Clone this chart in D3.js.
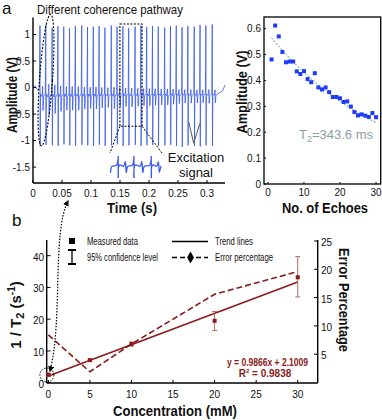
<!DOCTYPE html>
<html>
<head>
<meta charset="UTF-8">
<style>
body { margin: 0; background: #fff; }
svg { display: block; }
text { font-family: "Liberation Sans", Arial, sans-serif; fill: #111; }
.tick { font-size: 10px; }
.lbl { font-weight: bold; font-size: 15px; }
.leg { font-size: 10.5px; }
</style>
</head>
<body>
<svg id="fig" width="382" height="420"></svg>
<script src="https://d3js.org/d3.v7.min.js"></script>
<script>

// ---- panel a (left): CPMG echo train ----
var pulseTimes = [0.012, 0.022, 0.033, 0.043, 0.053, 0.063, 0.073, 0.084, 0.094, 0.104,
                  0.114, 0.124, 0.135, 0.145, 0.155, 0.165, 0.176, 0.186, 0.196, 0.206,
                  0.216, 0.227, 0.237, 0.247, 0.257, 0.267, 0.278, 0.288, 0.298, 0.309];
var pulsePeaks = [1.17, 1.18, 1.13, 1.16, 1.15, 1.12, 1.16, 1.17, 1.14, 1.15,
                  1.16, 1.13, 1.17, 1.15, 1.16, 1.12, 1.15, 1.17, 1.14, 1.16,
                  1.15, 1.13, 1.16, 1.17, 1.14, 1.16, 1.15, 1.18, 1.17, 1.19];
var pulseTroughs = [-1.10, -1.08, -1.09, -1.10, -1.07, -1.09, -1.10, -1.08, -1.09, -1.10,
                    -1.08, -1.10, -1.09, -1.07, -1.10, -1.09, -1.08, -1.10, -1.09, -1.08,
                    -1.10, -1.09, -1.08, -1.10, -1.12, -1.09, -1.10, -1.11, -1.09, -1.10];
var timeTicks = [0, 0.05, 0.1, 0.15, 0.2, 0.25, 0.3];
var ampTicks = [-1.5, -1, -0.5, 0, 0.5, 1];

// ---- panel a (right): echo amplitudes ----
var echoNo = d3.range(1, 31);
var echoAmp = [0.481, 0.612, 0.570, 0.510, 0.470, 0.473, 0.473, 0.435, 0.425, 0.436,
               0.405, 0.393, 0.428, 0.373, 0.365, 0.373, 0.355, 0.336, 0.336, 0.331,
               0.317, 0.319, 0.299, 0.278, 0.265, 0.269, 0.264, 0.259, 0.274, 0.258];
var fitA0 = 0.582, echoSpacingMs = 10.3, T2ms = 343.6;
var echoTicks = [0, 10, 20, 30];
var echoAmpTicks = [0, 0.1, 0.2, 0.3, 0.4, 0.5, 0.6];

// ---- panel b ----
var conc = [0, 5, 10, 20, 30];
var rate = [2.5, 7.1, 12.2, 19.5, 33.2];
var rateLo = [2.0, 6.7, 11.5, 16.4, 27.0];
var rateHi = [3.0, 7.5, 12.8, 22.4, 39.7];
var errPct = [8.4, 1.9, 6.8, 15.6, 19.6];
var slope = 0.9866, intercept = 2.1009;
var concTicks = [0, 5, 10, 15, 20, 25, 30];
var rateTicks = [0, 10, 20, 30, 40];
var errTicks = [5, 10, 15, 20, 25];

var darkRed = "#8b1a1a";
var blue = "#3b5cf2";

var svg = d3.select("#fig");
svg.append("rect").attr("width", 382).attr("height", 420).attr("fill", "#fff");

// ======================= panel a left =======================
var xA = d3.scaleLinear().domain([0, 0.331]).range([33, 225]);
var yA = d3.scaleLinear().domain([-1.8, 1.32]).range([183, 17.6]);

function tracePoints() {
  var base = -0.12, pts = [[0, 0.03], [0.004, 0.03], [0.008, -0.05], [pulseTimes[0] - 0.0008, 0.0]];
  pulseTimes.forEach(function(t, i) {
    var next = i < pulseTimes.length - 1 ? pulseTimes[i + 1] : t + 0.0102;
    var a = echoAmp[i], te = (t + next) / 2;
    pts.push([t, pulsePeaks[i]]);
    pts.push([t + 0.0004, pulseTroughs[i]]);
    pts.push([t + 0.0010, base]);
    pts.push([te - 0.0014, base - 0.1 * a]);
    pts.push([te - 0.0003, base + 0.3 * a]);
    pts.push([te + 0.0003, base - 0.65 * a]);
    pts.push([te + 0.0013, base - 0.1 * a]);
    pts.push([next - 0.0008, base]);
  });
  pts.push([0.327, -0.06]);
  pts.push([0.331, 0.05]);
  return pts;
}
var trace = tracePoints();

var gA = svg.append("g");
gA.append("path")
  .attr("d", d3.line().x(function(d) { return xA(d[0]); }).y(function(d) { return yA(d[1]); })(trace))
  .attr("fill", "none").attr("stroke", blue).attr("stroke-width", 0.9).attr("stroke-opacity", 0.9);

// axes
gA.append("line").attr("x1", 33).attr("x2", 33).attr("y1", yA.range()[1]).attr("y2", 183).attr("stroke", "#000").attr("stroke-width", 1.4);
gA.append("line").attr("x1", 33).attr("x2", 225).attr("y1", 183).attr("y2", 183).attr("stroke", "#000").attr("stroke-width", 1.4);
ampTicks.forEach(function(v) {
  gA.append("line").attr("x1", 33).attr("x2", 36).attr("y1", yA(v)).attr("y2", yA(v)).attr("stroke", "#000");
  gA.append("text").attr("class", "tick").attr("x", 30).attr("y", yA(v) + 3.5).attr("text-anchor", "end").text(v);
});
timeTicks.forEach(function(v) {
  gA.append("line").attr("x1", xA(v)).attr("x2", xA(v)).attr("y1", 183).attr("y2", 180).attr("stroke", "#000");
  gA.append("text").attr("class", "tick").attr("x", xA(v)).attr("y", 197).attr("text-anchor", "middle").text(v);
});

// annotations
gA.append("text").attr("x", 2).attr("y", 14).attr("font-size", 17).text("a");
gA.append("text").attr("x", 37).attr("y", 14).attr("font-size", 13)
  .attr("textLength", 146).attr("lengthAdjust", "spacingAndGlyphs").text("Different coherence pathway");
gA.append("ellipse").attr("cx", 46).attr("cy", 80).attr("rx", 6.5).attr("ry", 66)
  .attr("transform", "rotate(4,46,80)")
  .attr("fill", "none").attr("stroke", "#000").attr("stroke-width", 1.1).attr("stroke-dasharray", "2,1.5");

// dashed box around a few pulses and its magnified inset
var bx0 = xA(0.155) - 3, bx1 = xA(0.188), by0 = yA(1.20), by1 = yA(-0.73);
gA.append("rect").attr("x", bx0).attr("y", by0).attr("width", bx1 - bx0).attr("height", by1 - by0)
  .attr("fill", "none").attr("stroke", "#000").attr("stroke-width", 1.1).attr("stroke-dasharray", "2,1.5");
gA.append("line").attr("x1", bx0).attr("y1", by1).attr("x2", 110).attr("y2", 153)
  .attr("stroke", "#000").attr("stroke-width", 1).attr("stroke-dasharray", "2,1.5");
gA.append("line").attr("x1", bx1).attr("y1", by1).attr("x2", 162).attr("y2", 153)
  .attr("stroke", "#000").attr("stroke-width", 1).attr("stroke-dasharray", "2,1.5");

var xIn = d3.scaleLinear().domain([0.150, 0.183]).range([110, 162]);
var yIn = d3.scaleLinear().domain([-0.5, 0.3]).range([177, 152]);
svg.append("clipPath").attr("id", "inclip").append("rect").attr("x", 108).attr("y", 156).attr("width", 56).attr("height", 22);
gA.append("path")
  .attr("clip-path", "url(#inclip)")
  .attr("d", d3.line().curve(d3.curveCatmullRom)
    .x(function(d) { return xIn(d[0]); }).y(function(d) { return yIn(d[1]); })
    (trace.filter(function(d) { return d[0] >= 0.150 && d[0] <= 0.183; })))
  .attr("fill", "none").attr("stroke", blue).attr("stroke-width", 1.3);

gA.append("text").attr("x", 196).attr("y", 162).attr("font-size", 13).attr("text-anchor", "middle").text("Excitation");
gA.append("text").attr("x", 196).attr("y", 177).attr("font-size", 13).attr("text-anchor", "middle").text("signal");
gA.append("path")
  .attr("d", d3.line()([[xA(0.2685), yA(-0.65)], [xA(0.277), yA(-1.05)], [xA(0.2875), yA(-0.68)]]))
  .attr("fill", "none").attr("stroke", "#555").attr("stroke-width", 1);

gA.append("text").attr("class", "lbl").attr("transform", "translate(17,95) rotate(-90)")
  .attr("text-anchor", "middle").attr("textLength", 76).attr("lengthAdjust", "spacingAndGlyphs").text("Amplitude (V)");
gA.append("text").attr("class", "lbl").attr("x", 132).attr("y", 213)
  .attr("text-anchor", "middle").attr("textLength", 50).attr("lengthAdjust", "spacingAndGlyphs").text("Time (s)");

// ======================= panel a right =======================
var xR = d3.scaleLinear().domain([-1.1, 31.3]).range([264, 380.7]);
var yR = d3.scaleLinear().domain([0, 0.645]).range([184, 17]);
var gR = svg.append("g");
echoAmpTicks.forEach(function(v) {
  gR.append("line").attr("x1", 264).attr("x2", 266).attr("y1", yR(v)).attr("y2", yR(v)).attr("stroke", "#000");
  gR.append("text").attr("class", "tick").attr("x", 261).attr("y", yR(v) + 3.5).attr("text-anchor", "end").text(v);
});
echoTicks.forEach(function(v) {
  gR.append("line").attr("x1", xR(v)).attr("x2", xR(v)).attr("y1", 184).attr("y2", 182).attr("stroke", "#000");
  gR.append("text").attr("class", "tick").attr("x", xR(v)).attr("y", 196).attr("text-anchor", "middle").text(v);
});
gR.append("path")
  .attr("d", d3.line()
    .x(function(n) { return xR(n); })
    .y(function(n) { return yR(fitA0 * Math.exp(-n * echoSpacingMs / T2ms)); })(echoNo))
  .attr("fill", "none").attr("stroke", "#6b8a8a").attr("stroke-width", 1).attr("stroke-dasharray", "2,1.5");
gR.selectAll("rect.pt").data(echoNo).enter().append("rect").attr("class", "pt")
  .attr("x", function(n) { return xR(n) - 2; })
  .attr("y", function(n, i) { return yR(echoAmp[i]) - 2; })
  .attr("width", 4).attr("height", 4).attr("fill", "#1d3cf5");
gR.append("rect").attr("x", 264).attr("y", 17).attr("width", 116.7).attr("height", 167)
  .attr("fill", "none").attr("stroke", "#000").attr("stroke-width", 1.3);
var t2 = gR.append("text").attr("x", 299).attr("y", 139).attr("font-size", 13).style("fill", "#8a9ea6");
t2.append("tspan").text("T");
t2.append("tspan").attr("font-size", 9).attr("dy", 3).text("2");
t2.append("tspan").attr("dy", -3).text("=343.6 ms");
gR.append("text").attr("class", "lbl").attr("transform", "translate(247,92) rotate(-90)")
  .attr("text-anchor", "middle").attr("textLength", 83).attr("lengthAdjust", "spacingAndGlyphs").text("Amplitude (V)");
gR.append("text").attr("class", "lbl").attr("x", 325).attr("y", 213)
  .attr("text-anchor", "middle").attr("textLength", 86).attr("lengthAdjust", "spacingAndGlyphs").text("No. of Echoes");

// ======================= panel b =======================
var xB = d3.scaleLinear().domain([-0.2, 32.4]).range([46.7, 317.7]);
var yB = d3.scaleLinear().domain([0, 45]).range([382.7, 239.8]);
var yE = d3.scaleLinear().domain([0, 25]).range([382.5, 241]);
var gB = svg.append("g");

gB.append("text").attr("x", 12).attr("y", 226).attr("font-size", 17).text("b");

// axes
gB.append("line").attr("x1", 46.7).attr("x2", 46.7).attr("y1", 240).attr("y2", 383).attr("stroke", "#000").attr("stroke-width", 1.4);
gB.append("line").attr("x1", 317.7).attr("x2", 317.7).attr("y1", 240).attr("y2", 383).attr("stroke", "#000").attr("stroke-width", 1.4);
gB.append("line").attr("x1", 46.7).attr("x2", 317.7).attr("y1", 383).attr("y2", 383).attr("stroke", "#000").attr("stroke-width", 1.4);
rateTicks.forEach(function(v) {
  gB.append("line").attr("x1", 46.7).attr("x2", 50.5).attr("y1", yB(v)).attr("y2", yB(v)).attr("stroke", "#000");
  gB.append("text").attr("class", "tick").attr("font-size", 13).attr("x", 44).attr("y", yB(v) + 5).attr("text-anchor", "end").text(v);
});
concTicks.forEach(function(v) {
  gB.append("line").attr("x1", xB(v)).attr("x2", xB(v)).attr("y1", 383).attr("y2", 380).attr("stroke", "#000");
  gB.append("text").attr("class", "tick").attr("font-size", 13).attr("x", xB(v)).attr("y", 398).attr("text-anchor", "middle").text(v);
});
errTicks.forEach(function(v) {
  gB.append("line").attr("x1", 314).attr("x2", 317.7).attr("y1", yE(v)).attr("y2", yE(v)).attr("stroke", "#000");
  gB.append("text").attr("class", "tick").attr("font-size", 13).attr("x", 321).attr("y", yE(v) + 5).text(v);
});

// trend line
gB.append("line")
  .attr("x1", xB(0)).attr("y1", yB(intercept))
  .attr("x2", xB(30)).attr("y2", yB(slope * 30 + intercept))
  .attr("stroke", darkRed).attr("stroke-width", 1.6);
// error percentage
gB.append("path")
  .attr("d", d3.line().x(function(d, i) { return xB(conc[i]); }).y(function(d) { return yE(d); })(errPct))
  .attr("fill", "none").attr("stroke", darkRed).attr("stroke-width", 1.6).attr("stroke-dasharray", "6,3");
// confidence bars + measured points
conc.forEach(function(c, i) {
  var x = xB(c);
  gB.append("line").attr("x1", x).attr("x2", x).attr("y1", yB(rateLo[i])).attr("y2", yB(rateHi[i])).attr("stroke", "#b36a6a").attr("stroke-width", 1);
  [rateLo[i], rateHi[i]].forEach(function(v) {
    gB.append("line").attr("x1", x - 2.5).attr("x2", x + 2.5).attr("y1", yB(v)).attr("y2", yB(v)).attr("stroke", "#b36a6a").attr("stroke-width", 1);
  });
  gB.append("rect").attr("x", x - 2).attr("y", yB(rate[i]) - 2).attr("width", 4).attr("height", 4).attr("fill", darkRed);
});

// equation
gB.append("text").attr("x", 308).attr("y", 366).attr("text-anchor", "end").attr("font-size", 10).attr("font-weight", "bold")
  .attr("textLength", 81).attr("lengthAdjust", "spacingAndGlyphs").style("fill", darkRed).text("y = 0.9866x + 2.1009");
var r2 = gB.append("text").attr("x", 265).attr("y", 377).attr("text-anchor", "middle").attr("font-size", 10).attr("font-weight", "bold").style("fill", darkRed);
r2.append("tspan").text("R");
r2.append("tspan").attr("font-size", 6).attr("dy", -4).text("2");
r2.append("tspan").attr("dy", 4).text(" = 0.9838");

// legend
gB.append("rect").attr("x", 69).attr("y", 238).attr("width", 6).attr("height", 6).attr("fill", "#000");
gB.append("line").attr("x1", 72).attr("x2", 72).attr("y1", 250).attr("y2", 264).attr("stroke", "#000").attr("stroke-width", 1.3);
gB.append("line").attr("x1", 68).attr("x2", 76).attr("y1", 250).attr("y2", 250).attr("stroke", "#000").attr("stroke-width", 2);
gB.append("line").attr("x1", 68).attr("x2", 76).attr("y1", 264).attr("y2", 264).attr("stroke", "#000").attr("stroke-width", 2);
gB.append("text").attr("class", "leg").attr("x", 87).attr("y", 245).attr("textLength", 51).attr("lengthAdjust", "spacingAndGlyphs").text("Measured data");
gB.append("text").attr("class", "leg").attr("x", 87).attr("y", 261).attr("textLength", 71).attr("lengthAdjust", "spacingAndGlyphs").text("95% confidence level");
gB.append("line").attr("x1", 172).attr("x2", 208).attr("y1", 241.5).attr("y2", 241.5).attr("stroke", "#000").attr("stroke-width", 1.6);
gB.append("line").attr("x1", 172).attr("x2", 208).attr("y1", 257.5).attr("y2", 257.5).attr("stroke", "#000").attr("stroke-width", 1.6).attr("stroke-dasharray", "5,3");
gB.append("path").attr("d", d3.symbol(d3.symbolDiamond, 40)()).attr("transform", "translate(190.5,257.5)").attr("fill", "#000");
gB.append("text").attr("class", "leg").attr("x", 215).attr("y", 245).attr("textLength", 38).attr("lengthAdjust", "spacingAndGlyphs").text("Trend lines");
gB.append("text").attr("class", "leg").attr("x", 215).attr("y", 261).attr("textLength", 58).attr("lengthAdjust", "spacingAndGlyphs").text("Error percentage");

// axis titles
var yl = gB.append("text").attr("class", "lbl").attr("font-size", 16).attr("transform", "translate(21,315) rotate(-90)").attr("text-anchor", "middle");
yl.append("tspan").text("1 / T");
yl.append("tspan").attr("font-size", 11).attr("dy", 3).text("2");
yl.append("tspan").attr("dy", -3).text(" (s");
yl.append("tspan").attr("font-size", 10).attr("dy", -6).text("-1");
yl.append("tspan").attr("dy", 6).text(")");
gB.append("text").attr("class", "lbl").attr("x", 175).attr("y", 416)
  .attr("text-anchor", "middle").attr("textLength", 124).attr("lengthAdjust", "spacingAndGlyphs").text("Concentration (mM)");
gB.append("text").attr("class", "lbl").attr("transform", "translate(339,300) rotate(90)")
  .attr("text-anchor", "middle").attr("textLength", 104).attr("lengthAdjust", "spacingAndGlyphs").text("Error Percentage");

// dotted link from panel a to the origin of panel b
svg.append("defs").append("marker").attr("id", "ah").attr("viewBox", "0 0 10 10").attr("refX", 8).attr("refY", 5)
  .attr("markerWidth", 5).attr("markerHeight", 5).attr("orient", "auto-start-reverse")
  .append("path").attr("d", "M0,0 L10,5 L0,10 z").attr("fill", "#000");
svg.append("path").attr("d", "M68,201 C52,232 63,320 50,371")
  .attr("fill", "none").attr("stroke", "#000").attr("stroke-width", 1.2).attr("stroke-dasharray", "1.5,1.5")
  .attr("marker-start", "url(#ah)").attr("marker-end", "url(#ah)");
svg.append("circle").attr("cx", xB(0) - 1.5).attr("cy", 375).attr("r", 7)
  .attr("fill", "none").attr("stroke", "#000").attr("stroke-width", 1).attr("stroke-dasharray", "1.5,1.5");

</script>
</body>
</html>
